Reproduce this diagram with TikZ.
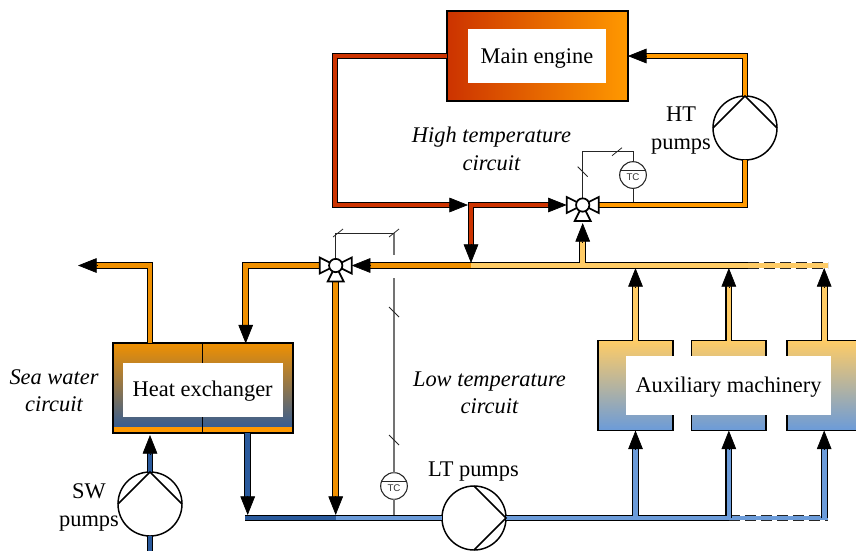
\documentclass[tikz,border=0pt]{standalone}
\usepackage{fontspec}
\setmainfont{Liberation Serif}
\setsansfont{Liberation Sans}
\usepackage{tikz}
\usetikzlibrary{arrows.meta, positioning}
\definecolor{htred}{HTML}{CC3300}
\definecolor{htorange}{HTML}{FF9900}
\definecolor{ltorange}{HTML}{F09000}
\definecolor{ltyellow}{HTML}{FFCC66}
\definecolor{swblue}{HTML}{2A5A9C}
\definecolor{ltblue}{HTML}{6B9BD9}

\begin{document}
\begin{tikzpicture}[
    x=0.75pt, y=-0.75pt,
    pipe/.style={draw=black, line width=0.8pt, double=#1, double distance=3.5pt, line join=miter},
    dashline/.style={black!85, line width=5.1pt, dash pattern=on 8pt off 4pt},
    dashfill/.style={#1, line width=3.5pt},
    tip/.style={-{Triangle[length=14pt, width=11pt]}, line width=0.5pt},
    ctrl/.style={draw=black!85, line width=0.6pt},
    ctrllow/.style={draw=black!55, line width=0.9pt},
    machine/.style={rectangle, draw, line width=1.2pt, outer sep=0pt, inner sep=0pt, minimum height=67.5pt},
    whitebox/.style={rectangle, fill=white, inner sep=0pt, text height=13pt, text depth=2.5pt, font=\fontsize{16.8}{21}\selectfont, align=center},
    txt/.style={font=\fontsize{16.8}{21}\selectfont, align=center, inner sep=0pt},
    note/.style={font=\fontsize{16.8}{20}\selectfont\itshape, align=center, inner sep=0pt},
    pumpc/.style={circle, draw, fill=white, line width=1.1pt, minimum size=48pt, inner sep=0pt, outer sep=0pt},
    tcc/.style={circle, draw=black!85, fill=white, line width=0.8pt, minimum size=20pt, inner sep=0pt, outer sep=0pt,
        label={[font=\sffamily\fontsize{7.3}{8}\selectfont, text=black!80, yshift=-1.6pt, inner sep=0pt]center:TC}},
    valve/.pic={
        \draw[fill=white, line width=1.3pt, line join=miter] (0,0) -- (-16,-8) -- (-16,8) -- cycle;
        \draw[fill=white, line width=1.3pt, line join=miter] (0,0) -- (16,-8) -- (16,8) -- cycle;
        \draw[fill=white, line width=1.3pt, line join=miter] (0,0) -- (-8,16) -- (8,16) -- cycle;
        \node[circle, draw, fill=white, line width=1.3pt, minimum size=10pt, inner sep=0pt] (-c) at (0,0) {};
        \coordinate (-w) at (-16,0);
        \coordinate (-e) at (16,0);
        \coordinate (-s) at (0,16);
    },
]
    \useasboundingbox (0,0) rectangle (856,551);

    % machinery
    \node[machine, minimum width=135.5pt, left color=htred, right color=htorange] (engine) at (537.5,56) {};
    \node[machine, minimum width=135pt, top color=ltorange, bottom color=swblue,
        path picture={\fill[htorange] (path picture bounding box.south west) rectangle ([yshift=4.5pt]path picture bounding box.south east);}] (hx) at (202.7,388) {};
    \node[machine, minimum width=56pt, top color=ltyellow, bottom color=ltblue] (aux1) at (635.5,385.5) {};
    \node[machine, minimum width=56pt, top color=ltyellow, bottom color=ltblue, right=14pt of aux1] (aux2) {};
    \node[machine, minimum width=56pt, top color=ltyellow, bottom color=ltblue, right=15.5pt of aux2] (aux3) {};
    \draw[line width=0.8pt] (hx.north) -- (hx.south);

    \node[whitebox, minimum width=103.5pt, minimum height=40.5pt] (enginelabel) at (537,56) {Main engine};
    \node[whitebox, minimum width=120pt, minimum height=40.5pt] (hxlabel) at (202.7,389.7) {Heat exchanger};
    \node[whitebox, minimum width=154pt, minimum height=44pt] (auxlabel) at (728.5,385.5) {Auxiliary machinery};

    % pumps and valves
    \node[pumpc] (htpump) at (745,128) {};
    \node[pumpc] (swpump) at (150,504) {};
    \node[pumpc] (ltpump) at (474,518) {};
    \node[tcc] (tchot) at (633,175) {};
    \node[tcc] (tclow) at (394,486) {};

    \coordinate (jred) at (335,205);
    \coordinate (jredend) at (468,205);
    \coordinate (jhot) at (471,205);
    \coordinate (jman) at (471,265.5);
    \coordinate (jmix) at (582.7,265.5);
    \coordinate (jdash) at (748,265.5);
    \coordinate (jend) at (828,265.5);
    \coordinate (jout) at (78,265.5);
    \coordinate (jhxin) at (245.7,343.5);
    \coordinate (jhxtop) at (150,265.5);
    \coordinate (jcold) at (245,518);
    \coordinate (jsea) at (335.7,518);
    \coordinate (jlow1) at (635.5,518);
    \coordinate (jlow2) at (aux2.south |- jlow1);
    \coordinate (jlow3) at (aux3.south |- jlow1);
    \coordinate (jlowend) at (828,518);
    \coordinate (jbelow) at (150,551);
    \coordinate (jhxout) at (247.7,515);
    \coordinate (jseaend) at (335.7,515);
    \coordinate (jmanend) at (471,263);
    \coordinate (jmixend) at (582.7,223);
    \coordinate (jsw) at (150,435);

    % high temperature circuit
    \draw[pipe=htred] (engine.west) -| (jred) -- ([xshift=-10pt]jredend);
    \draw[pipe=htred] (566.7,205) ++(-10,0) -- (jhot) -- ([yshift=10pt]jmanend);
    \draw[pipe=htorange] (598.7,205) -| (htpump.south);
    \draw[pipe=htorange] (htpump.north) |- ([xshift=10pt]engine.east);

    % low temperature circuit
    \draw[pipe=ltorange] (jman) -- (361.7,265.5);
    \draw[pipe=ltorange] (319.7,265.5) -| ([yshift=10pt]jhxin);
    \draw[pipe=ltorange] (335.7,281.5) -- ([yshift=10pt]jseaend);
    \draw[pipe=ltorange] (swpump |- hx.north) -- (jhxtop) -- ([xshift=10pt]jout);
    \draw[dashline] (jdash) -- (jend);
    \draw[dashfill=ltyellow] (jdash) -- (jend);
    \draw[pipe=ltyellow] (jman) -- (jdash) (jmix) -- ([yshift=-10pt]jmixend);
    \foreach \m in {aux1,aux2,aux3}
        \draw[pipe=ltyellow] (\m.north) -- ([yshift=-10pt]\m.north |- 0,268);

    \draw[pipe=swblue] (jhxout |- hx.south) -- ([yshift=10pt]jhxout);
    \draw[pipe=swblue] (jcold) -- (jsea);
    \draw[pipe=ltblue] (jsea) -- (ltpump.west);
    \draw[dashline] (jlow2) -- (jlowend);
    \draw[dashfill=ltblue] (jlow2) -- (jlowend);
    \draw[pipe=ltblue] (ltpump.east) -- (jlow2)
        (jlow1) -- ([yshift=-10pt]aux1.south) (jlow2) -- ([yshift=-10pt]aux2.south);
    \draw[pipe=ltblue] (jlow3) -- ([yshift=-10pt]aux3.south);

    % sea water circuit
    \draw[pipe=swblue] (swpump.north) -- ([yshift=-10pt]jsw);
    \draw[pipe=swblue] (swpump.south) -- (jbelow);

    \draw[line width=1.1pt] (htpump.west) -- (htpump.north) -- (htpump.east);
    \draw[line width=1.1pt] (swpump.west) -- (swpump.north) -- (swpump.east);
    \draw[line width=1.1pt] (ltpump.north) -- (ltpump.east) -- (ltpump.south);

    % control lines
    \coordinate (chot) at (633,151.7);
    \coordinate (ctop) at (394,233);
    \coordinate (cgapa) at (394,255);
    \coordinate (cgapb) at (394,278);
    \draw[ctrl] (582.7,205) |- (chot) -- (tchot.north);
    \draw[ctrl] (tchot.south) -- (633,202);
    \draw[ctrl] (335.7,265.5) |- (ctop);
    \draw[ctrllow] (ctop) -- (cgapa);
    \draw[ctrllow] (cgapb) -- (tclow.north);
    \draw[ctrllow] (tclow.south) -- (394,515);
    \draw[ctrl, line width=0.8pt] (tchot.center) ++(-12.7,-4.5) -- ++(25.4,0);
    \draw[ctrl, line width=0.8pt] (tclow.center) ++(-12.7,-4.5) -- ++(25.4,0);
    \foreach \p in {(617,151.7),(338,233),(394,233)}
        \draw[ctrl] \p ++(-5,4) -- ++(10,-8);
    \foreach \p in {(582.7,171.7),(394,312),(394,440)}
        \draw[ctrl] \p ++(-5,-5) -- ++(10,10);
    \pic (vhot) at (582.7,205) {valve};
    \pic (vlow) at (335.7,265.5) {valve};

    % arrow heads
    \draw[tip] ([xshift=14pt]engine.east) -- (engine.east);
    \draw[tip] ([xshift=-14pt]jredend) -- (jredend);
    \draw[tip] ([yshift=14pt]jmanend) -- (jmanend);
    \draw[tip] ([xshift=-14pt]vhot-w) -- (vhot-w);
    \draw[tip] ([yshift=-14pt]jmixend) -- (jmixend);
    \draw[tip] ([xshift=14pt]vlow-e) -- (vlow-e);
    \draw[tip] ([xshift=14pt]jout) -- (jout);
    \draw[tip] ([yshift=14pt]jhxin) -- (jhxin);
    \draw[tip] ([yshift=14pt]jseaend) -- (jseaend);
    \draw[tip] ([yshift=14pt]jhxout) -- (jhxout);
    \draw[tip] ([yshift=-14pt]jsw) -- (jsw);
    \foreach \m in {aux1,aux2,aux3} {
        \draw[tip] ([yshift=-14pt]\m.north |- 0,268) -- (\m.north |- 0,268);
        \draw[tip] ([yshift=-14pt]\m.south) -- (\m.south);
    }

    % labels
    \node[note, font=\fontsize{16.8}{21}\selectfont\itshape] (hightemp) at (491.5,148.5) {High temperature\\circuit};
    \node[note] (lowtemp) at (489.5,393) {Low temperature\\circuit};
    \node[note] (seawater) at (54,391) {Sea water\\circuit};
    \node[txt] (htlabel) at (681,131) {HT\\pumps};
    \node[txt] (ltlabel) at (473.5,472) {LT pumps};
    \node[txt] (swlabel) at (89,507.5) {SW\\pumps};
\end{tikzpicture}
\end{document}
